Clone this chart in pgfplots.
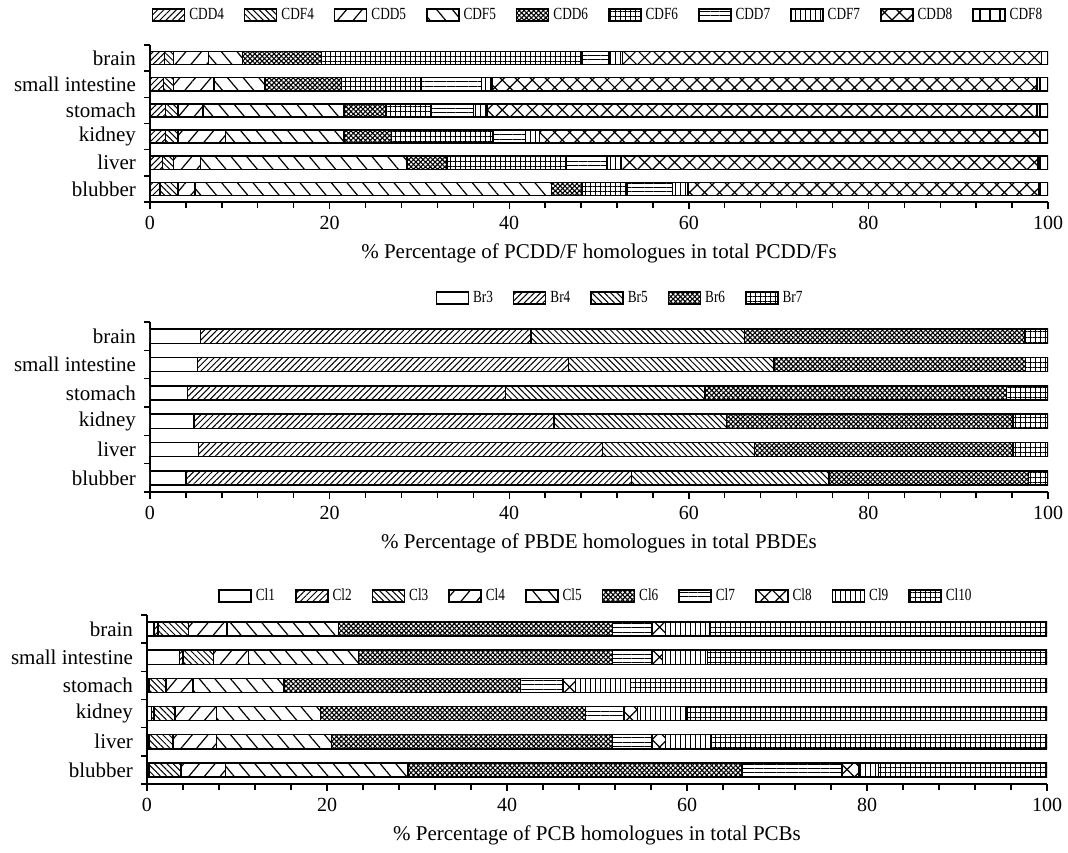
\documentclass[border=0pt]{standalone}
\usepackage{fontspec}
\setmainfont{Liberation Serif}
\newfontfamily\legfont{Liberation Serif}[FakeStretch=0.78]
\usepackage{pgfplots}
\pgfplotsset{compat=1.18}
\usepackage{pgfplotstable}
\usetikzlibrary{patterns.meta}

% rows: 1 blubber, 2 liver, 3 kidney, 4 stomach, 5 small intestine, 6 brain
\pgfplotstableread{
y CDD4 CDF4 CDD5 CDF5 CDD6 CDF6 CDD7 CDF7 CDD8 CDF8
1 1.1 2.0 1.9 39.7 3.4 5.0 5.1 1.7 39.1 1.0
2 1.4 1.2 3.0 23.0 4.5 13.2 4.6 1.6 46.4 1.1
3 1.7 1.4 5.3 13.2 5.3 11.3 3.6 1.6 55.7 0.9
4 1.7 1.4 2.8 15.7 4.7 5.0 4.7 1.5 61.3 1.2
5 1.5 1.1 4.5 5.7 8.5 8.9 6.7 1.2 60.7 1.2
6 1.6 1.0 3.9 3.8 8.8 29.0 3.0 1.5 46.7 0.7
}\pcdd

\pgfplotstableread{
y Br3 Br4 Br5 Br6 Br7
1 4.0 49.6 22.0 22.2 2.2
2 5.4 45.0 16.9 28.8 3.9
3 4.9 40.1 19.2 31.9 3.9
4 4.2 35.4 22.2 33.6 4.6
5 5.3 41.3 22.9 28.0 2.5
6 5.6 36.8 23.8 31.2 2.6
}\pbde

\pgfplotstableread{
y Cl1 Cl2 Cl3 Cl4 Cl5 Cl6 Cl7 Cl8 Cl9 Cl10
1 0.2 0.1 3.5 4.9 20.3 37.1 11.1 1.9 2.2 18.7
2 0.2 0.1 2.6 4.8 12.8 31.2 4.4 1.5 5.1 37.3
3 0.5 0.3 2.3 4.6 11.6 29.4 4.3 1.5 5.5 40.0
4 0.2 0.1 1.8 3.0 10.1 26.3 4.7 1.4 6.1 46.3
5 3.6 0.4 3.4 3.9 12.2 28.2 4.4 1.2 5.0 37.7
6 0.8 0.4 3.4 4.3 12.4 30.4 4.4 1.5 4.9 37.5
}\pcb

\tikzset{
  pwhite/.style={fill=white},
  pA/.style={pattern={Lines[angle=45,distance=2.2pt,line width=0.5pt]}},
  pB/.style={pattern={Lines[angle=-45,distance=2.2pt,line width=0.5pt]}},
  pC/.style={pattern={Lines[angle=50,distance=6pt,line width=0.6pt]}},
  pD/.style={pattern={Lines[angle=-50,distance=6pt,line width=0.6pt]}},
  pE/.style={pattern={Hatch[angle=45,distance=1.7pt,line width=0.55pt]}},
  pF/.style={pattern={Hatch[angle=0,distance=2.5pt,line width=0.5pt]}},
  pG/.style={pattern={Lines[angle=0,distance=2.2pt,line width=0.5pt]}},
  pH/.style={pattern={Lines[angle=90,distance=2.5pt,line width=0.5pt]}},
  pI/.style={pattern={Hatch[angle=45,distance=5.3pt,line width=0.6pt]}},
  pJ/.style={pattern={Lines[angle=90,distance=5pt,line width=0.6pt]}},
}

\pgfplotsset{
  homol/.style={
    xbar stacked, scale only axis, width=449pt,
    bar width=0.5,
    xmin=0, xmax=100, ymin=0.5, ymax=6.5,
    axis lines*=left, axis line style={-, line width=1pt},
    xtick={0,20,...,100}, minor x tick num=4,
    ytick={1,...,6},
    yticklabels={blubber,liver,kidney,stomach,small intestine,brain},
    minor ytick={0.5,1.5,...,6.5},
    major y tick style={draw=none},
    tick align=outside, tick pos=left,
    major tick length=3.5pt, minor tick length=2.8pt,
    every tick/.style={black, line width=0.7pt},
    /pgf/number format/assume math mode=true,
    xticklabel style={font=\fontsize{10}{12}\selectfont},
    yticklabel style={font=\fontsize{10.5}{12}\selectfont},
    label style={font=\fontsize{10.5}{12}\selectfont},
    every axis plot/.append style={draw=black, line width=0.75pt},
    legend style={draw=none, fill=none, legend columns=-1,
      font=\legfont\fontsize{8.5}{9}\selectfont,
      at={(0.5,1)}, anchor=center,
      /tikz/every even column/.append style={column sep=8pt}},
    legend image code/.code={\draw[##1,draw=black,line width=0.75pt] (0pt,-3pt) rectangle (16pt,3pt);},
  }
}

\begin{document}
\begin{tikzpicture}
\useasboundingbox (-75pt,-34pt) rectangle (459pt,392pt);

\begin{axis}[homol, at={(0,291pt)}, anchor=south west, height=78.5pt,
  legend style={yshift=15pt},
  xlabel={\% Percentage of PCDD/F homologues in total PCDD/Fs}]
\addplot[pA] table[x=CDD4,y=y]{\pcdd};
\addplot[pB] table[x=CDF4,y=y]{\pcdd};
\addplot[pC] table[x=CDD5,y=y]{\pcdd};
\addplot[pD] table[x=CDF5,y=y]{\pcdd};
\addplot[pE] table[x=CDD6,y=y]{\pcdd};
\addplot[pF] table[x=CDF6,y=y]{\pcdd};
\addplot[pG] table[x=CDD7,y=y]{\pcdd};
\addplot[pH] table[x=CDF7,y=y]{\pcdd};
\addplot[pI] table[x=CDD8,y=y]{\pcdd};
\addplot[pJ] table[x=CDF8,y=y]{\pcdd};
\legend{CDD4,CDF4,CDD5,CDF5,CDD6,CDF6,CDD7,CDF7,CDD8,CDF8}
\end{axis}

\begin{axis}[homol, at={(0,146pt)}, anchor=south west, height=85pt,
  legend style={yshift=12pt, xshift=11pt},
  xlabel={\% Percentage of PBDE homologues in total PBDEs}]
\addplot[pwhite] table[x=Br3,y=y]{\pbde};
\addplot[pA] table[x=Br4,y=y]{\pbde};
\addplot[pB] table[x=Br5,y=y]{\pbde};
\addplot[pE] table[x=Br6,y=y]{\pbde};
\addplot[pF] table[x=Br7,y=y]{\pbde};
\legend{Br3,Br4,Br5,Br6,Br7}
\end{axis}

\begin{axis}[homol, at={(-1.5pt,0)}, anchor=south west, height=84.5pt, width=450pt,
  legend style={yshift=9.5pt},
  xlabel={\% Percentage of PCB homologues in total PCBs}]
\addplot[pwhite] table[x=Cl1,y=y]{\pcb};
\addplot[pA] table[x=Cl2,y=y]{\pcb};
\addplot[pB] table[x=Cl3,y=y]{\pcb};
\addplot[pC] table[x=Cl4,y=y]{\pcb};
\addplot[pD] table[x=Cl5,y=y]{\pcb};
\addplot[pE] table[x=Cl6,y=y]{\pcb};
\addplot[pG] table[x=Cl7,y=y]{\pcb};
\addplot[pI] table[x=Cl8,y=y]{\pcb};
\addplot[pH] table[x=Cl9,y=y]{\pcb};
\addplot[pF] table[x=Cl10,y=y]{\pcb};
\legend{Cl1,Cl2,Cl3,Cl4,Cl5,Cl6,Cl7,Cl8,Cl9,Cl10}
\end{axis}
\end{tikzpicture}
\end{document}
